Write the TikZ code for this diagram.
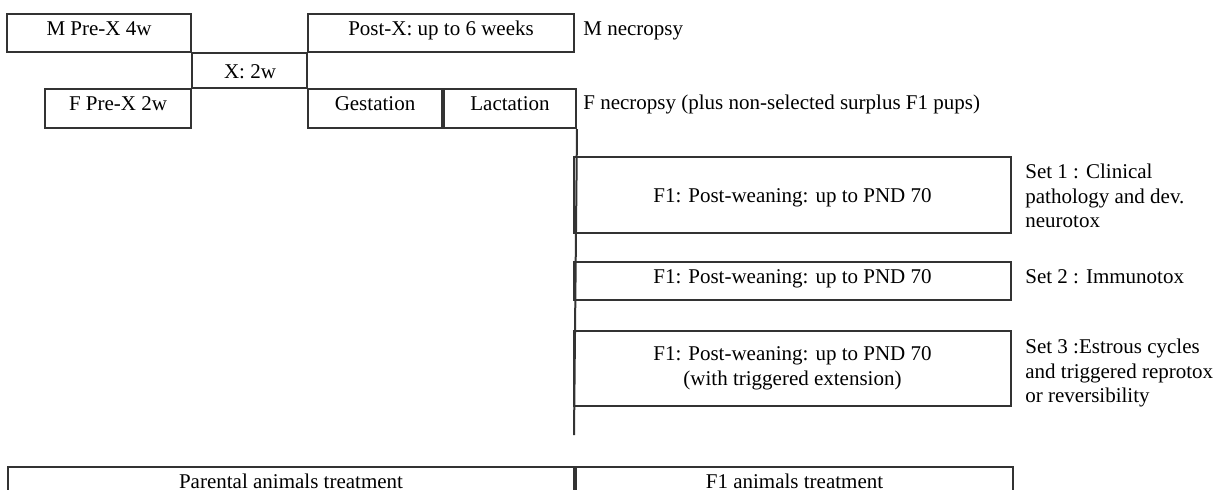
\documentclass[tikz,border=0pt]{standalone}
\usepackage{fontspec}
\setmainfont{Liberation Serif}
\usepackage{tikz}
\usetikzlibrary{positioning}
\tikzset{
  txt/.style={font=\fontsize{10.5}{12.25}\selectfont, inner sep=0pt},
  blk/.style={txt, rectangle, draw=black!80, line width=1pt,
              text height=7pt, text depth=0pt},
  blkup/.style={blk, text depth=5pt},
  blkml/.style={txt, rectangle, draw=black!80, line width=1pt, align=center},
  lbl/.style={txt, align=left},
  ln/.style={draw=black!80, line width=1pt}
}

\begin{document}
\begin{tikzpicture}[x=0.5pt, y=-0.5pt]
        \path[use as bounding box, clip] (0,0) rectangle (1217,489);
        % parents
        \node[blkup, minimum width=92pt, minimum height=19pt] (mpre) at (99,33) {M Pre-X 4w};
        \node[blkup, minimum width=133pt, minimum height=19pt] (postx) at (441,33) {Post-X: up to 6 weeks};
        \node[blkup, minimum width=73pt, minimum height=19.5pt] (fpre) at (118,108.5) {F Pre-X 2w};
        \node[blkup, minimum width=67pt, minimum height=19.5pt] (gest) at (375,108.5) {Gestation};
        \node[blkup, minimum width=66pt, minimum height=19.5pt, right=0pt of gest] (lact) {Lactation};
        \node[txt, anchor=base] (xlab) at (250,78) {X: 2w};
        \node[txt, anchor=base west] (mnec) at (583,35) {M necropsy};
        \node[txt, anchor=base west] (fnec) at (583,109) {F necropsy (plus non-selected surplus F1 pups)};
        \draw[ln] (mpre.south east) -- (postx.south west);
        \draw[ln] (mpre.south east) -- (fpre.north east);
        \draw[ln] (fpre.north east) -- (gest.north west);
        \draw[ln] (postx.south west) -- (gest.north west);
        % F1 sets
        \node[blk, minimum width=218.5pt, minimum height=38pt] (seta) at (792.5,195) {F1: Post-weaning: up to PND 70};
        \node[blkup, minimum width=218.5pt, minimum height=19pt] (setb) at (792.5,281) {F1: Post-weaning: up to PND 70};
        \node[blkml, minimum width=218.5pt, minimum height=37.5pt] (setc) at (792.5,368.5) {F1: Post-weaning: up to PND 70\\(with triggered extension)};
        \node[lbl, anchor=north west] (la) at (1025,164) {Set 1 : Clinical\\pathology and dev.\\neurotox};
        \node[lbl, anchor=base west] (lb) at (1025,283) {Set 2 : Immunotox};
        \node[lbl, anchor=north west] (lc) at (1025,339) {Set 3 :Estrous cycles\\and triggered reprotox\\or reversibility};
        \coordinate (lend) at (574,435);
        \draw[ln] (lact.south east) -- (lend);
        % treatment bar
        \node[blkup, minimum width=283pt, minimum height=19pt] (par) at (291,486) {Parental animals treatment};
        \node[blkup, minimum width=218.5pt, minimum height=19pt, right=0pt of par] (f1tr) {F1 animals treatment};
\end{tikzpicture}
\end{document}
